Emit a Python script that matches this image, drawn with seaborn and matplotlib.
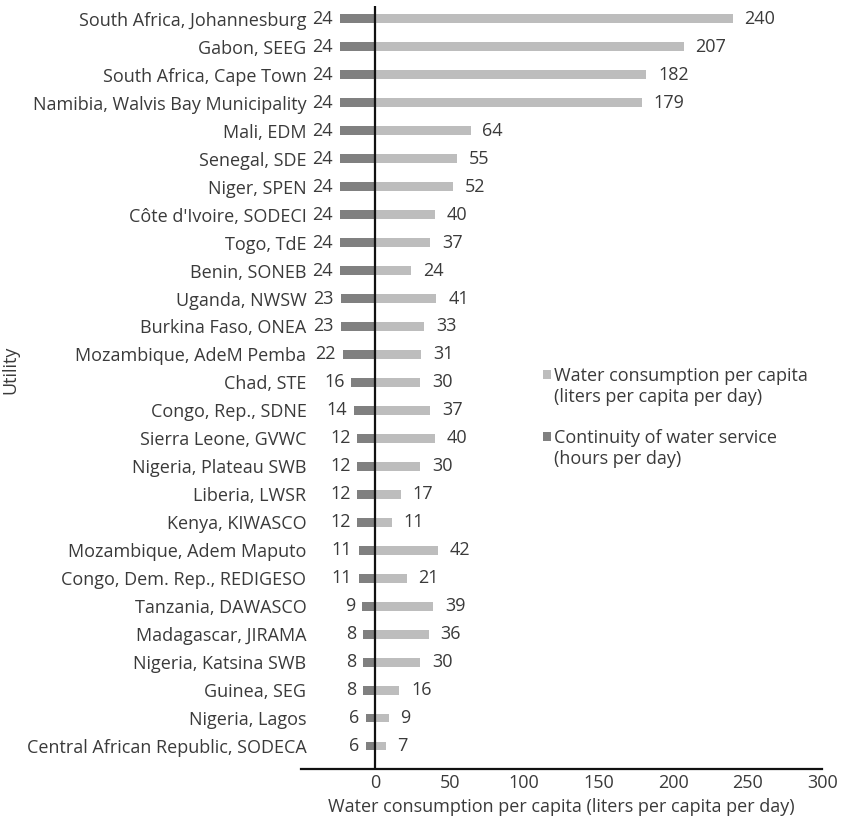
import matplotlib
matplotlib.use("Agg")
import matplotlib.pyplot as plt
from matplotlib.patches import Rectangle
import seaborn as sns

utilities = [
    "South Africa, Johannesburg", "Gabon, SEEG", "South Africa, Cape Town",
    "Namibia, Walvis Bay Municipality", "Mali, EDM", "Senegal, SDE", "Niger, SPEN",
    "Côte d'Ivoire, SODECI", "Togo, TdE", "Benin, SONEB", "Uganda, NWSW",
    "Burkina Faso, ONEA", "Mozambique, AdeM Pemba", "Chad, STE", "Congo, Rep., SDNE",
    "Sierra Leone, GVWC", "Nigeria, Plateau SWB", "Liberia, LWSR", "Kenya, KIWASCO",
    "Mozambique, Adem Maputo", "Congo, Dem. Rep., REDIGESO", "Tanzania, DAWASCO",
    "Madagascar, JIRAMA", "Nigeria, Katsina SWB", "Guinea, SEG", "Nigeria, Lagos",
    "Central African Republic, SODECA",
]
consumption = [240, 207, 182, 179, 64, 55, 52, 40, 37, 24, 41, 33, 31, 30, 37, 40,
               30, 17, 11, 42, 21, 39, 36, 30, 16, 9, 7]
continuity = [24, 24, 24, 24, 24, 24, 24, 24, 24, 24, 23, 23, 22, 16, 14, 12, 12,
              12, 12, 11, 11, 9, 8, 8, 8, 6, 6]
xticks = [0, 50, 100, 150, 200, 250, 300]

s_cons = "Water consumption per capita"
s_cons2 = "(liters per capita per day)"
s_cont = "Continuity of water service"
s_cont2 = "(hours per day)"

sns.set_theme(style="white")
plt.rcParams["font.family"] = ["Open Sans", "DejaVu Sans"]
txt = "#3a3a3a"
plt.rcParams["text.color"] = txt
plt.rcParams["axes.labelcolor"] = txt
plt.rcParams["xtick.color"] = txt
plt.rcParams["ytick.color"] = txt
FS = 13

fig = plt.figure(figsize=(8.45, 8.18), dpi=100)
ax = fig.add_axes([0.356, 0.06, 0.617, 0.9327])

sns.barplot(x=consumption, y=utilities, color="#BDBDBD", saturation=1,
            width=0.32, ax=ax, orient="h", label=s_cons, linewidth=0)
sns.barplot(x=[-c for c in continuity], y=utilities, color="#808080", saturation=1,
            width=0.32, ax=ax, orient="h", label=s_cont, linewidth=0)

for i, (c, h) in enumerate(zip(consumption, continuity)):
    ax.annotate(str(c), (c, i), xytext=(8.5, 0), textcoords="offset points",
                va="center", ha="left", fontsize=FS, color=txt)
    ax.annotate(str(h), (-h, i), xytext=(-5, 0), textcoords="offset points",
                va="center", ha="right", fontsize=FS, color=txt)

ax.set_xlim(-50, 300)
ax.set_ylim(len(utilities) - 1 + 0.82, -0.46)
ax.set_xticks(xticks)
ax.set_xticklabels([str(t) for t in xticks], fontsize=FS)
ax.tick_params(axis="y", labelsize=FS, length=0, pad=-4)
ax.tick_params(axis="x", length=0, pad=4)
ax.axvline(0, color="#111111", lw=1.6)
for sp in ["top", "right", "left"]:
    ax.spines[sp].set_visible(False)
ax.spines["bottom"].set_color("#111111")
ax.spines["bottom"].set_linewidth(1.6)
ax.set_xlabel("Water consumption per capita (liters per capita per day)", fontsize=FS, labelpad=4)
ax.set_ylabel("Utility", fontsize=FS)
ax.yaxis.set_label_coords(-0.539, 0.523)

handles, labels = ax.get_legend_handles_labels()
hmap = dict(zip(labels, handles))
blank = lambda: Rectangle((0, 0), 1, 1, alpha=0)
leg_handles = [hmap[s_cons], blank(), blank(), hmap[s_cont], blank()]
leg_labels = [s_cons, s_cons2, "", s_cont, s_cont2]
leg = ax.legend(leg_handles, leg_labels, loc="upper left", bbox_to_anchor=(0.4515, 0.536),
                frameon=False, fontsize=FS, handlelength=0.4, handleheight=0.4,
                handletextpad=0.2, labelspacing=0.15, borderaxespad=0)
for t in leg.get_texts():
    t.set_color(txt)

fig.savefig("out.png", dpi=100)
